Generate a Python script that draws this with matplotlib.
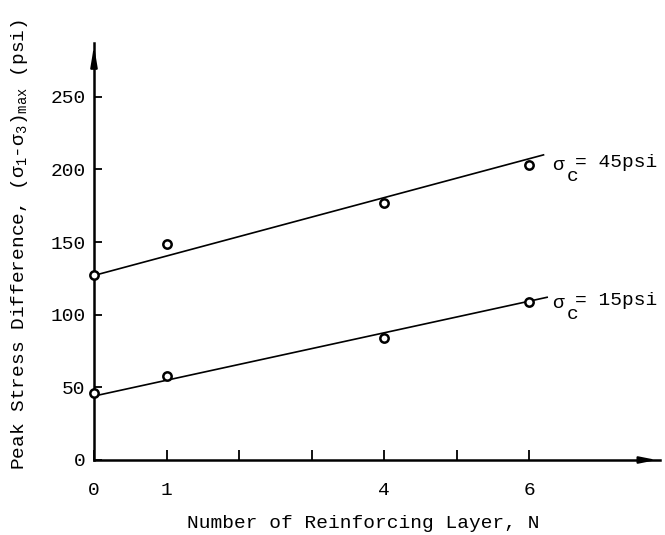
import matplotlib
matplotlib.use("Agg")
import matplotlib.pyplot as plt

# Data
layers = [0, 1, 4, 6]
peak_45 = [127, 149, 177, 203]
peak_15 = [46, 58, 84, 109]
fit_x_45 = [0, 6.2]
fit_y_45 = [127, 210]
fit_x_15 = [0, 6.25]
fit_y_15 = [44, 112]
xticks = [0, 1, 2, 3, 4, 5, 6]
xticklabels = ['0', '1', '', '', '4', '', '6']
yticks = [0, 50, 100, 150, 200, 250]

FONT = 'Liberation Mono'
plt.rcParams['font.family'] = [FONT, 'DejaVu Sans']
plt.rcParams['mathtext.fontset'] = 'custom'
plt.rcParams['mathtext.rm'] = FONT
plt.rcParams['mathtext.it'] = FONT

fig = plt.figure(figsize=(6.65, 5.35), dpi=100)
ax = fig.add_axes([94/665, 75/535, (659.5-94)/665, (460-43)/535])
ax.set_xlim(0, 7.8)
ax.set_ylim(0, 287)

for s in ['top', 'right']:
    ax.spines[s].set_visible(False)
for s in ['left', 'bottom']:
    ax.spines[s].set_linewidth(1.8)

# arrows
ax.annotate('', xy=(1.0, 0), xytext=(0.97, 0), xycoords='axes fraction',
            arrowprops=dict(arrowstyle='-|>,head_length=1.0,head_width=0.2', color='k', lw=1.5),
            annotation_clip=False)
ax.annotate('', xy=(0, 1.0), xytext=(0, 0.96), xycoords='axes fraction',
            arrowprops=dict(arrowstyle='-|>,head_length=1.2,head_width=0.2', color='k', lw=1.5),
            annotation_clip=False)

ax.plot(fit_x_45, fit_y_45, color='k', lw=1.2)
ax.plot(fit_x_15, fit_y_15, color='k', lw=1.2)
ax.plot(layers, peak_45, 'o', mfc='white', mec='k', ms=6, mew=1.8, clip_on=False, zorder=5)
ax.plot(layers, peak_15, 'o', mfc='white', mec='k', ms=6, mew=1.8, clip_on=False, zorder=5)

ax.set_xticks(xticks)
ax.set_xticklabels(xticklabels)
ax.set_yticks(yticks)
ax.tick_params(axis='x', direction='in', length=7, width=1.3, pad=16, labelsize=14)
ax.tick_params(axis='y', direction='in', length=6, width=1.3, pad=6, labelsize=14)

# curve labels
for yv, txt in [(203, '= 45psi'), (108, '= 15psi')]:
    ax.text(6.32, yv, 'σ', fontsize=14, ha='left', va='center')
    ax.text(6.52, yv - 8, 'c', fontsize=14, ha='left', va='center')
    ax.text(6.64, yv + 1.5, txt, fontsize=14, ha='left', va='center')

fig.text(363/665, 1 - 523/535, 'Number of Reinforcing Layer, N', fontsize=14,
         ha='center', va='center')
fig.text(20/665, 1 - 245/535,
         r'Peak Stress Difference, $(\sigma_1$-$\sigma_3)_{\rm max}$ (psi)',
         fontsize=14, rotation=90, ha='center', va='center')

fig.savefig('out.png', dpi=100)
